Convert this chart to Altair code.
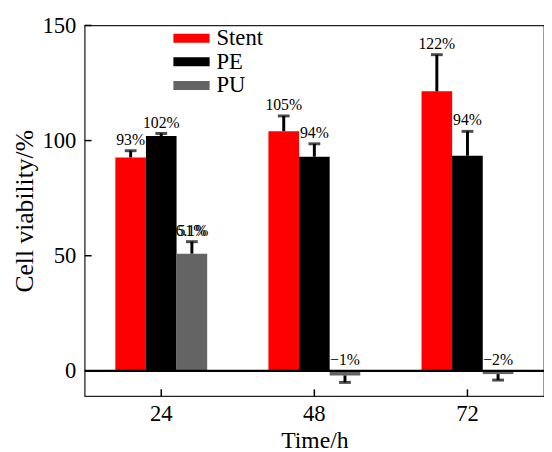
import altair as alt
import pandas as pd

# ---- data ----
hours = ["24", "48", "72"]
groups = ["Stent", "PE", "PU"]
colors = ["#ff0000", "#000000", "#646464"]

stent = [92.7, 104.1, 121.4]
pe = [102.0, 93.0, 93.4]
pu = [50.9, -2.0, -1.4]

stent_err = [2.9, 6.6, 15.9]
pe_err = [1.1, 5.6, 10.6]
pu_err = [5.2, 3.0, 2.6]

stent_labels = ["93%", "105%", "122%"]
pe_labels = ["102%", "94%", "94%"]
pu_labels = ["51%", "\u22121%", "\u22122%"]
pu_overlay_label = ["6.1%", "", ""]

y_ticks = [0, 50, 100, 150]

# ---- table ----
rows = []
for g, vals, errs, labs in zip(groups, [stent, pe, pu],
                               [stent_err, pe_err, pu_err],
                               [stent_labels, pe_labels, pu_labels]):
    for h, v, e, l in zip(hours, vals, errs, labs):
        end = v + e if v >= 0 else v - e
        rows.append(dict(hour=h, group=g, value=v, end=end, label=l,
                         label_y=end if v >= 0 else 0))
df = pd.DataFrame(rows)

over = []
for h, l in zip(hours, pu_overlay_label):
    if l:
        r = df[(df.hour == h) & (df.group == "PU")].iloc[0]
        over.append(dict(hour=h, group="PU", label=l, label_y=r.label_y))
df_over = pd.DataFrame(over)

W, H = 467, 377
FONT = "Liberation Serif"
YTITLE = "Cell viability/%"

y_scale = alt.Scale(domain=[-11, 150], nice=False, zero=False)
x_enc = alt.X("hour:N", sort=hours,
              scale=alt.Scale(paddingInner=0.4, paddingOuter=0.2),
              axis=alt.Axis(title="Time/h", labelAngle=0, ticks=False, domain=False,
                            labelFontSize=23, labelPadding=7, titleFontSize=24,
                            titlePadding=3, labelFont=FONT, titleFont=FONT,
                            titleFontWeight="normal", labelColor="black",
                            titleColor="black"))
xo_enc = alt.XOffset("group:N", sort=groups,
                     scale=alt.Scale(paddingInner=0, paddingOuter=0))
y_axis = alt.Axis(title=YTITLE, values=y_ticks, ticks=False, domain=False, grid=False,
                  labelFontSize=23, labelPadding=9, titleFontSize=26, titlePadding=5,
                  labelFont=FONT, titleFont=FONT, titleFontWeight="normal",
                  labelColor="black", titleColor="black")

color_enc = alt.Color("group:N", sort=groups,
                      scale=alt.Scale(domain=groups, range=colors),
                      legend=alt.Legend(title=None, orient="none", legendX=90, legendY=1,
                                        symbolType="M-1,-0.25H1V0.25H-1Z",
                                        symbolSize=1369, symbolStrokeWidth=0,
                                        labelFont=FONT, labelFontSize=23,
                                        labelOffset=7, clipHeight=24, rowPadding=0,
                                        padding=0, labelColor="black"))

bars = alt.Chart(df).mark_bar().encode(
    x=x_enc, xOffset=xo_enc,
    y=alt.Y("value:Q", scale=y_scale, axis=y_axis),
    color=color_enc)

err = alt.Chart(df).mark_rule(color="black", strokeWidth=3).encode(
    x=alt.X("hour:N", sort=hours), xOffset=xo_enc,
    y=alt.Y("value:Q", scale=y_scale, title=YTITLE),
    y2="end:Q")

caps = alt.Chart(df).mark_tick(color="black", thickness=3, size=12, orient="horizontal").encode(
    x=alt.X("hour:N", sort=hours), xOffset=xo_enc,
    y=alt.Y("end:Q", scale=y_scale, title=YTITLE))

labels = alt.Chart(df).mark_text(font=FONT, fontSize=16, dy=-6, baseline="alphabetic",
                                 color="black").encode(
    x=alt.X("hour:N", sort=hours), xOffset=xo_enc,
    y=alt.Y("label_y:Q", scale=y_scale, title=YTITLE),
    text="label:N")

over_labels = alt.Chart(df_over).mark_text(font=FONT, fontSize=16, dy=-6,
                                           baseline="alphabetic", color="black").encode(
    x=alt.X("hour:N", sort=hours), xOffset=xo_enc,
    y=alt.Y("label_y:Q", scale=y_scale, title=YTITLE),
    text="label:N")

zero = alt.Chart(pd.DataFrame({"z": [0]})).mark_rule(color="black", strokeWidth=2.5).encode(
    y=alt.Y("z:Q", scale=y_scale, title=YTITLE))

yt = alt.Chart(pd.DataFrame({"t": y_ticks})).mark_rule(color="black", strokeWidth=1.5).encode(
    y=alt.Y("t:Q", scale=y_scale, title=YTITLE),
    x=alt.value(0), x2=alt.value(7))

xt = alt.Chart(pd.DataFrame({"hour": hours})).mark_rule(color="black", strokeWidth=1.5).encode(
    x=alt.X("hour:N", sort=hours),
    y=alt.value(H), y2=alt.value(H - 7))

chart = alt.layer(bars, err, caps, labels, over_labels, zero, yt, xt).properties(
    width=W, height=H,
    padding={"left": 78, "top": 14, "right": 0, "bottom": 53},
    autosize=alt.AutoSizeParams(type="none"),
).configure_view(stroke="#222222", strokeWidth=1.3)

chart.save("out.html", embed_options={"renderer": "svg", "actions": False})
